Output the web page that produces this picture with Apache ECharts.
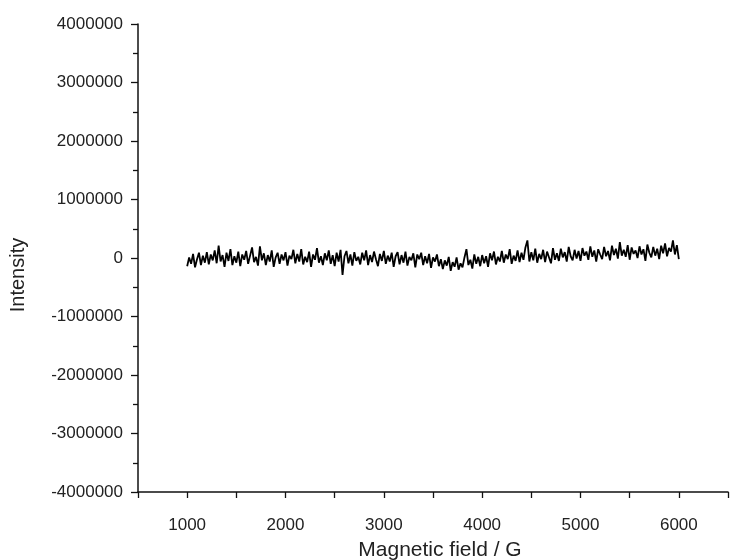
<!DOCTYPE html>
<html>
<head>
<meta charset="utf-8">
<script src="https://cdn.jsdelivr.net/npm/echarts@6/dist/echarts.min.js"></script>
<style>html,body{margin:0;padding:0;background:#fff;}#chart{width:737px;height:560px;}</style>
</head>
<body>
<div id="chart"></div>
<script>
// Magnetic field (G): start and step of the sweep
const fieldStart = 1000;
const fieldStep = 20;
// Intensity readings, one per field step from 1000 to 6000 G
const intensity = [
  -140000, 10000, -100000, 70000, -160000, -20000, 90000, -120000, 40000, -80000,
  100000, -110000, 60000, -40000, 130000, -90000, 210000, -60000, 50000, -150000,
  90000, -50000, 150000, -120000, 30000, -80000, 110000, -140000, 60000, -30000,
  120000, -100000, 40000, 180000, -70000, 20000, -130000, 200000, -40000, 80000,
  -120000, 50000, -60000, 130000, -150000, 10000, 90000, -100000, 60000, -40000,
  100000, -130000, 40000, -20000, 140000, -90000, 70000, -60000, 150000, -110000,
  20000, -70000, 110000, -150000, 60000, -30000, 170000, -80000, 30000, -120000,
  80000, -40000, 130000, -100000, 50000, -140000, 90000, -60000, 140000, -290000,
  30000, 120000, -90000, 60000, -130000, 100000, -50000, 20000, -110000, 90000,
  -40000, 130000, -120000, 50000, -70000, 110000, -20000, -140000, 70000, -50000,
  120000, -100000, 40000, -60000, 90000, -150000, 30000, 100000, -110000, 50000,
  -80000, 110000, -130000, 20000, -40000, 80000, -160000, 60000, -20000, 90000,
  -120000, 30000, -90000, 70000, -170000, 10000, -60000, 60000, -140000, -20000,
  -190000, -40000, -130000, 20000, -220000, -70000, -150000, 10000, -200000, -90000,
  -160000, 10000, 150000, -120000, -30000, -180000, 60000, -100000, 20000, -140000,
  50000, -90000, 30000, -150000, 80000, -40000, 110000, -110000, 20000, -60000,
  120000, -80000, 60000, -20000, 150000, -100000, 40000, -50000, 130000, -70000,
  90000, -30000, 180000, 300000, -60000, 100000, -40000, 160000, -80000, 70000,
  -20000, 140000, -70000, 110000, 10000, -90000, 170000, -30000, 80000, -50000,
  160000, 10000, 100000, -60000, 190000, 30000, -40000, 140000, -10000, 120000,
  -50000, 170000, 40000, 110000, -30000, 200000, 20000, 130000, -60000, 150000,
  60000, -20000, 190000, 30000, 120000, -40000, 210000, 50000, 160000, -10000,
  270000, 40000, 140000, 20000, 220000, -30000, 180000, 70000, 130000, 0,
  200000, 60000, 150000, -50000, 230000, 90000, 10000, 190000, 40000, 160000,
  -20000, 210000, 80000, 250000, 30000, 170000, 110000, 300000, 60000, 220000,
  -20000
];
// Axis tick labels
const xTickLabels = ['1000', '2000', '3000', '4000', '5000', '6000'];
const yTickLabels = ['-4000000', '-3000000', '-2000000', '-1000000', '0', '1000000', '2000000', '3000000', '4000000'];

const seriesData = intensity.map((v, i) => [fieldStart + i * fieldStep, v]);
const font = '"Liberation Sans", Arial, sans-serif';
const chart = echarts.init(document.getElementById('chart'), null, {renderer: 'canvas'});
chart.setOption({
  animation: false,
  backgroundColor: '#ffffff',
  grid: {left: 138, right: 9, top: 24, bottom: 68, containLabel: false, outerBoundsMode: 'none'},
  xAxis: {
    type: 'value', min: 500, max: 6500, interval: 500,
    name: 'Magnetic field / G', nameLocation: 'middle', nameGap: 48,
    nameTextStyle: {fontFamily: font, fontSize: 21, color: '#222', padding: [0, 0, 0, 14]},
    axisLine: {show: true, onZero: false, lineStyle: {color: '#111', width: 1.5}},
    axisTick: {show: true, inside: false, length: 6, lineStyle: {color: '#111', width: 1.3}},
    axisLabel: {
      margin: 25, fontFamily: font, fontSize: 17, color: '#222',
      formatter: v => xTickLabels.indexOf(String(v)) >= 0 ? String(v) : ''
    },
    splitLine: {show: false}
  },
  yAxis: {
    type: 'value', min: -4000000, max: 4000000, interval: 1000000,
    name: 'Intensity', nameLocation: 'middle', nameGap: 110, nameRotate: 90,
    nameTextStyle: {fontFamily: font, fontSize: 20, color: '#222', padding: [0, 34, 0, 0]},
    axisLine: {show: true, onZero: false, lineStyle: {color: '#111', width: 1.5}},
    axisTick: {show: true, inside: false, length: 7, lineStyle: {color: '#111', width: 1.3}},
    minorTick: {show: true, splitNumber: 2, length: 5, lineStyle: {color: '#111', width: 1.3}},
    axisLabel: {
      margin: 15, fontFamily: font, fontSize: 17, color: '#222',
      formatter: v => yTickLabels.indexOf(String(v)) >= 0 ? String(v) : ''
    },
    splitLine: {show: false}
  },
  series: [{
    type: 'line', data: seriesData, showSymbol: false, symbol: 'none',
    lineStyle: {color: '#000', width: 1.8}
  }]
});
</script>
</body>
</html>
